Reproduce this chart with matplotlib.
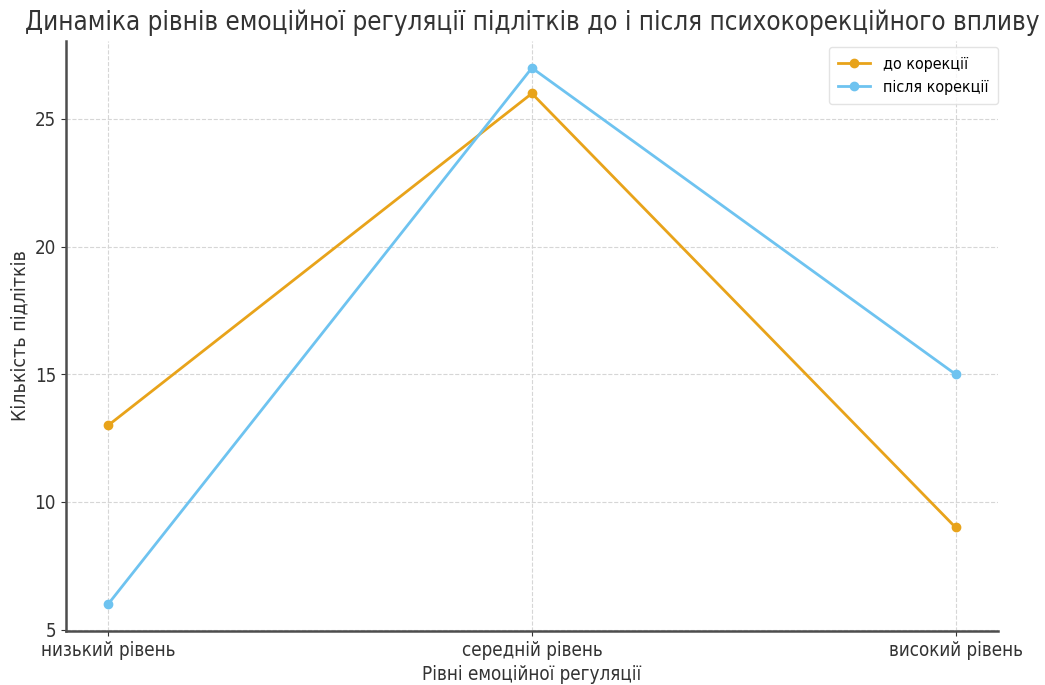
import matplotlib

matplotlib.use("Agg")
import matplotlib.pyplot as plt
from matplotlib import font_manager

levels = ["низький рівень", "середній рівень", "високий рівень"]
before = [13, 26, 9]
after = [6, 27, 15]

names = {f.name for f in font_manager.fontManager.ttflist}
family = "DejaVu Sans Condensed" if "DejaVu Sans Condensed" in names else "DejaVu Sans"
plt.rcParams["font.family"] = [family, "DejaVu Sans"]
plt.rcParams["font.stretch"] = "condensed"

fig, ax = plt.subplots(figsize=(10.45, 6.85), dpi=100)
ax.plot(levels, before, marker="o", color="#E8A31A", linewidth=2, markersize=6, label="до корекції")
ax.plot(levels, after, marker="o", color="#6EC3F0", linewidth=2, markersize=6, label="після корекції")

ax.set_title("Динаміка рівнів емоційної регуляції підлітків до і після психокорекційного впливу",
             fontsize=18.6, color="#333333", pad=8)
ax.set_xlabel("Рівні емоційної регуляції", fontsize=13.5, color="#333333")
ax.set_ylabel("Кількість підлітків", fontsize=14, color="#333333")
ax.tick_params(labelsize=13.5, colors="#333333")
ax.set_yticks([5, 10, 15, 20, 25])

ax.grid(True, linestyle="--", color="#d6d6d6", linewidth=0.8)
for side in ("top", "right"):
    ax.spines[side].set_visible(False)
for side in ("left", "bottom"):
    ax.spines[side].set_linewidth(1.8)
    ax.spines[side].set_color("#4d4d4d")

ax.legend(loc="upper right", fontsize=11.5, frameon=True, edgecolor="#dddddd",
          borderpad=0.6, bbox_to_anchor=(1.0, 0.99), borderaxespad=0.0)

fig.subplots_adjust(left=0.063, right=0.955, top=0.94, bottom=0.079)
fig.savefig("out.png", dpi=100)
plt.close(fig)
